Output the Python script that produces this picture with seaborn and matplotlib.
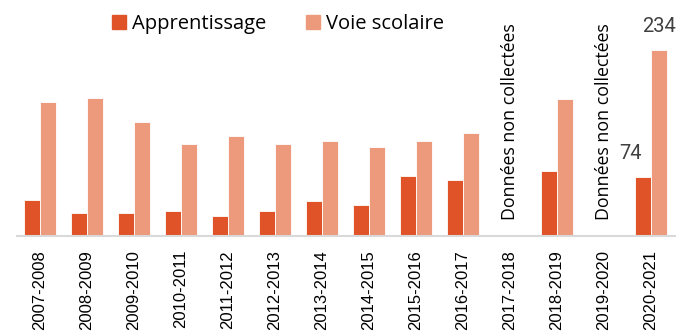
import numpy as np
import pandas as pd
import matplotlib
matplotlib.use("Agg")
import matplotlib.pyplot as plt
import seaborn as sns

years = ["2007-2008", "2008-2009", "2009-2010", "2010-2011", "2011-2012",
         "2012-2013", "2013-2014", "2014-2015", "2015-2016", "2016-2017",
         "2017-2018", "2018-2019", "2019-2020", "2020-2021"]
apprentissage = [45, 29, 29, 31, 25, 31, 44, 39, 75, 70, np.nan, 82, np.nan, 74]
voie_scolaire = [169, 174, 144, 116, 126, 116, 119, 112, 119, 130, np.nan, 172, np.nan, 234]
series_names = ["Apprentissage", "Voie scolaire"]
missing_text = "Données non collectées"

colors = ["#E05328", "#EC997C"]
text_color = "#404040"

df = pd.DataFrame({
    "Année": years * 2,
    "Série": [series_names[0]] * len(years) + [series_names[1]] * len(years),
    "Valeur": apprentissage + voie_scolaire,
})

sns.set_theme(style="white")
plt.rcParams["font.family"] = ["Open Sans", "DejaVu Sans"]

fig = plt.figure(figsize=(6.77, 3.36), dpi=100)
ax = fig.add_axes([16.5 / 677, 100 / 336, 658 / 677, 236 / 336])

sns.barplot(data=df, x="Année", y="Valeur", hue="Série", order=years,
            hue_order=series_names, palette=colors, saturation=1, width=0.68,
            edgecolor="white", linewidth=0.6, ax=ax, legend=False)

ax.set_ylim(0, 297)
ax.set_xlim(-0.5, len(years) - 0.5)
ax.set_xlabel("")
ax.set_ylabel("")
ax.set_yticks([])
for side in ["top", "right", "left"]:
    ax.spines[side].set_visible(False)
ax.spines["bottom"].set_color("#D9D9D9")
ax.spines["bottom"].set_linewidth(1.5)
ax.tick_params(axis="x", length=0, pad=10)
ax.set_xticks(range(len(years)))
ax.set_xticklabels(years, rotation=90, fontsize=12, color="black",
                   family=["Liberation Sans", "DejaVu Sans"], va="top")

# Years without collected data
for i, (a, v) in enumerate(zip(apprentissage, voie_scolaire)):
    if np.isnan(a) and np.isnan(v):
        ax.text(i, 20, missing_text, rotation=90, ha="center", va="bottom",
                fontsize=12.8, color="black")

# Value labels for the last year
last = len(years) - 1
off = 0.68 / 4
ax.text(last - off - 0.26, apprentissage[last] + 18, f"{apprentissage[last]:.0f}",
        ha="center", va="bottom", fontsize=14.5, color=text_color,
        family=["Roboto", "DejaVu Sans"])
ax.text(last + off, voie_scolaire[last] + 18, f"{voie_scolaire[last]:.0f}",
        ha="center", va="bottom", fontsize=14.5, color=text_color,
        family=["Roboto", "DejaVu Sans"])

handles = [plt.Rectangle((0, 0), 1, 1, color=c) for c in colors]
fig.legend(handles, series_names, loc="center", bbox_to_anchor=(278 / 677, 1 - 24 / 336),
           ncol=2, frameon=False, fontsize=14.5, handlelength=0.7, handleheight=0.7,
           handletextpad=0.3, columnspacing=2.0, labelcolor="black")

fig.savefig("out.png", dpi=100)
